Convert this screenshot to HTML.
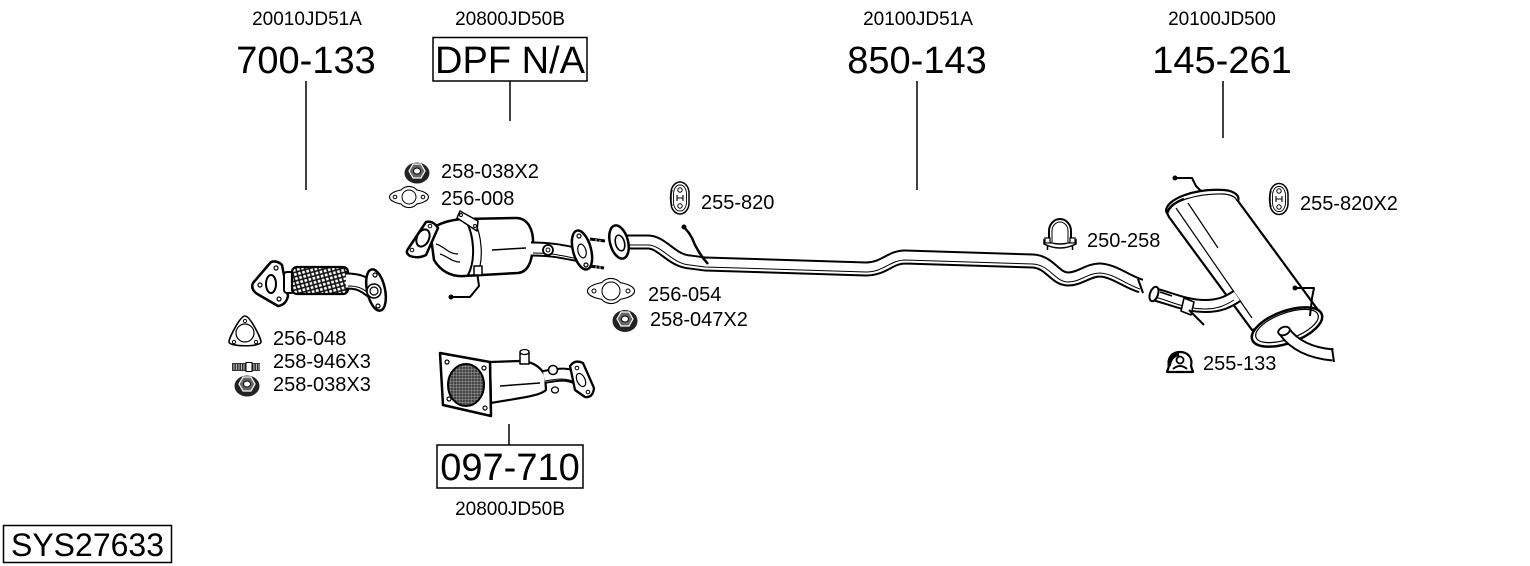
<!DOCTYPE html>
<html>
<head>
<meta charset="utf-8">
<style>
html,body{margin:0;padding:0;background:#fff;}
svg{display:block;}
text{font-family:"Liberation Sans",Arial,sans-serif;fill:#000;}
</style>
</head>
<body>
<svg width="1530" height="566" viewBox="0 0 1530 566" xmlns="http://www.w3.org/2000/svg">
<defs>
  <pattern id="mesh" width="6" height="6" patternUnits="userSpaceOnUse" patternTransform="rotate(30)">
    <rect width="6" height="6" fill="#fff"/>
    <path d="M0 0 L6 6 M6 0 L0 6" stroke="#111" stroke-width="1.6"/>
  </pattern>
  <pattern id="grid" width="3" height="3" patternUnits="userSpaceOnUse">
    <rect width="3" height="3" fill="#444"/>
    <path d="M0 0 H3 M0 0 V3" stroke="#bbb" stroke-width="0.7"/>
  </pattern>
</defs>

<!-- Header labels -->
<g font-size="19" text-anchor="middle">
  <text x="307" y="25">20010JD51A</text>
  <text x="510" y="25">20800JD50B</text>
  <text x="918" y="25">20100JD51A</text>
  <text x="1222" y="25">20100JD500</text>
  <text x="510" y="515">20800JD50B</text>
</g>
<g font-size="38" text-anchor="middle">
  <text x="306" y="73">700-133</text>
  <text x="510" y="73">DPF N/A</text>
  <text x="917" y="73">850-143</text>
  <text x="1222" y="73">145-261</text>
  <text x="510" y="480">097-710</text>
</g>
<rect x="433" y="37.5" width="154" height="43.5" fill="none" stroke="#000" stroke-width="1.5"/>
<rect x="437" y="445" width="146" height="43" fill="none" stroke="#000" stroke-width="1.5"/>
<rect x="3.5" y="525.5" width="168" height="37" fill="none" stroke="#000" stroke-width="1.5"/>
<text x="87.5" y="556" font-size="32" text-anchor="middle">SYS27633</text>

<!-- leader lines -->
<g stroke="#000" stroke-width="1.5">
  <line x1="306" y1="81" x2="306" y2="190"/>
  <line x1="510" y1="81" x2="510" y2="121"/>
  <line x1="917" y1="81" x2="917" y2="190"/>
  <line x1="1223" y1="81" x2="1223" y2="138"/>
  <line x1="509" y1="424" x2="509" y2="445"/>
</g>

<!-- small labels -->
<g font-size="20">
  <text x="441" y="178">258-038X2</text>
  <text x="441" y="205">256-008</text>
  <text x="273" y="345">256-048</text>
  <text x="273" y="368">258-946X3</text>
  <text x="273" y="391">258-038X3</text>
  <text x="701" y="209">255-820</text>
  <text x="648" y="301">256-054</text>
  <text x="650" y="326">258-047X2</text>
  <text x="1087" y="247">250-258</text>
  <text x="1300" y="210">255-820X2</text>
  <text x="1203" y="370">255-133</text>
</g>

<!-- Nut icons -->
<g transform="translate(417,172)">
  <ellipse cx="0" cy="1" rx="12.5" ry="10.5" fill="#222"/>
  <polygon points="-8,-1 -4,-8 4,-8 8,-1 4,6 -4,6" fill="#666" stroke="#fff" stroke-width="1.2"/>
  <ellipse cx="0" cy="-1" rx="3.5" ry="3" fill="#fff" stroke="#000" stroke-width="1"/>
</g>
<g transform="translate(247,385)">
  <ellipse cx="0" cy="1" rx="12.5" ry="10.5" fill="#222"/>
  <polygon points="-8,-1 -4,-8 4,-8 8,-1 4,6 -4,6" fill="#666" stroke="#fff" stroke-width="1.2"/>
  <ellipse cx="0" cy="-1" rx="3.5" ry="3" fill="#fff" stroke="#000" stroke-width="1"/>
</g>
<g transform="translate(625,320)">
  <ellipse cx="0" cy="1" rx="12.5" ry="11" fill="#222"/>
  <polygon points="-8,-1 -4,-8 4,-8 8,-1 4,6 -4,6" fill="#666" stroke="#fff" stroke-width="1.2"/>
  <ellipse cx="0" cy="-1" rx="3.5" ry="3" fill="#fff" stroke="#000" stroke-width="1"/>
</g>

<!-- Gaskets 2-hole -->
<g transform="translate(409,197)">
  <ellipse cx="0" cy="0" rx="19" ry="7" fill="none" stroke="#000" stroke-width="2.2"/>
  <circle cx="0" cy="0" r="10" fill="none" stroke="#000" stroke-width="2.2"/>
  <ellipse cx="0" cy="0" rx="19" ry="7" fill="#fff"/>
  <circle cx="0" cy="0" r="10" fill="#fff"/>
  <circle cx="0" cy="0" r="7" fill="none" stroke="#000" stroke-width="1"/>
  <circle cx="-14" cy="0" r="1.8" fill="none" stroke="#000" stroke-width="1"/>
  <circle cx="14" cy="0" r="1.8" fill="none" stroke="#000" stroke-width="1"/>
</g>
<g transform="translate(611,291)">
  <ellipse cx="0" cy="0" rx="23" ry="8.5" fill="none" stroke="#000" stroke-width="2.2"/>
  <circle cx="0" cy="0" r="12" fill="none" stroke="#000" stroke-width="2.2"/>
  <ellipse cx="0" cy="0" rx="23" ry="8.5" fill="#fff"/>
  <circle cx="0" cy="0" r="12" fill="#fff"/>
  <circle cx="0" cy="0" r="9" fill="none" stroke="#000" stroke-width="1"/>
  <circle cx="-17" cy="0" r="2" fill="none" stroke="#000" stroke-width="1"/>
  <circle cx="17" cy="0" r="2" fill="none" stroke="#000" stroke-width="1"/>
</g>
<!-- triangular gasket -->
<g transform="translate(245,332)">
  <path d="M0 -16 C5 -16 16 6 16 10 C16 15 -16 15 -16 10 C-16 6 -5 -16 0 -16 Z" fill="#fff" stroke="#000" stroke-width="1.6" stroke-linejoin="round"/>
  <circle cx="0" cy="1" r="9" fill="none" stroke="#000" stroke-width="1.2"/>
  <circle cx="0" cy="-11" r="1.6" fill="none" stroke="#000" stroke-width="0.9"/>
  <circle cx="-11" cy="10" r="1.6" fill="none" stroke="#000" stroke-width="0.9"/>
  <circle cx="11" cy="10" r="1.6" fill="none" stroke="#000" stroke-width="0.9"/>
</g>
<!-- stud bolt icon -->
<g transform="translate(232,363)">
  <rect x="0" y="0" width="28" height="8" fill="#333"/>
  <rect x="14" y="-0.5" width="6" height="9" fill="#fff" stroke="#000" stroke-width="1"/>
  <path d="M2 1V7 M4.5 1V7 M7 1V7 M9.5 1V7 M12 1V7 M22 1V7 M24.5 1V7 M27 1V7" stroke="#ddd" stroke-width="0.8"/>
</g>

<!-- Hangers -->
<g transform="translate(680,198)">
  <rect x="-9" y="-16" width="18" height="32" rx="9" ry="11" fill="#fff" stroke="#000" stroke-width="1.5"/>
  <rect x="-6.5" y="-13" width="13" height="26" rx="6" ry="9" fill="none" stroke="#000" stroke-width="0.9"/>
  <path d="M-8 -8 Q-11 0 -8 8" stroke="#000" stroke-width="1.5" fill="none"/>
  <circle cx="0" cy="-8" r="2.2" fill="none" stroke="#000" stroke-width="1"/>
  <circle cx="0" cy="8" r="2.2" fill="none" stroke="#000" stroke-width="1"/>
  <path d="M-3 -3 V3 M3 -3 V3 M-3 0 H3" stroke="#000" stroke-width="1.1"/>
</g>
<g transform="translate(1279,199)">
  <rect x="-9" y="-15.5" width="18" height="31" rx="9" ry="11" fill="#fff" stroke="#000" stroke-width="1.5"/>
  <rect x="-6.5" y="-12.5" width="13" height="25" rx="6" ry="9" fill="none" stroke="#000" stroke-width="0.9"/>
  <path d="M-8 -8 Q-11 0 -8 8" stroke="#000" stroke-width="1.5" fill="none"/>
  <circle cx="0" cy="-8" r="2.2" fill="none" stroke="#000" stroke-width="1"/>
  <circle cx="0" cy="8" r="2.2" fill="none" stroke="#000" stroke-width="1"/>
  <path d="M-3 -3 V3 M3 -3 V3 M-3 0 H3" stroke="#000" stroke-width="1.1"/>
</g>

<!-- Clamp 250-258 -->
<g transform="translate(1060,233)" fill="none" stroke="#000">
  <path d="M-11 9 V-2 A11 12 0 0 1 11 -2 V9" stroke-width="2"/>
  <path d="M-8 9 V-2 A8 9 0 0 1 8 -2 V9" stroke-width="1"/>
  <path d="M-16 7 Q0 15 16 7 L16 11 Q0 19 -16 11 Z" fill="#fff" stroke-width="1.5"/>
  <rect x="-15" y="5" width="5" height="5" fill="#fff" stroke-width="1.2"/>
  <rect x="10" y="5" width="5" height="5" fill="#fff" stroke-width="1.2"/>
  <path d="M-12.5 12 V17 M12.5 12 V17" stroke-width="1.5"/>
</g>

<!-- 255-133 rubber mount -->
<g transform="translate(1180,362)">
  <path d="M-13 10 L13 10 L11 4 C13 -4 8 -10 0 -10 C-8 -10 -13 -4 -11 4 Z" fill="#fff" stroke="#000" stroke-width="2.2" stroke-linejoin="round"/>
  <path d="M-11 4 C-10 -3 -6 -7 -1 -8" stroke="#000" stroke-width="3.5" fill="none"/>
  <circle cx="0" cy="-2" r="3.5" fill="none" stroke="#000" stroke-width="1.8"/>
  <path d="M-7 7 Q0 1 7 7" stroke="#000" stroke-width="2" fill="none"/>
</g>

<!-- ===== 700-133 flex pipe ===== -->
<g stroke-linejoin="round">
  <path d="M253 283 L271 262 Q277 260 282 265 L288 296 Q286 305 278 306 L259 295 Q250 290 253 283 Z" fill="#fff" stroke="#000" stroke-width="2.5"/>
  <ellipse cx="271" cy="284" rx="5" ry="9" fill="#fff" stroke="#000" stroke-width="2"/>
  <circle cx="260" cy="285" r="2" fill="#fff" stroke="#000" stroke-width="1.2"/>
  <circle cx="276" cy="268" r="2" fill="#fff" stroke="#000" stroke-width="1.2"/>
  <circle cx="279" cy="299" r="2" fill="#fff" stroke="#000" stroke-width="1.2"/>
  <rect x="284" y="272" width="10" height="21" rx="3" fill="#fff" stroke="#000" stroke-width="2"/>
  <rect x="292" y="267" width="56" height="27" rx="5" fill="url(#mesh)" stroke="#000" stroke-width="2.2"/>
  <path d="M346 281 C358 281 363 283 373 291" fill="none" stroke="#000" stroke-width="17" stroke-linecap="butt"/>
  <path d="M346 281 C358 281 363 283 373 291" fill="none" stroke="#fff" stroke-width="13"/>
  <path d="M348 286 C358 286 362 288 370 294" fill="none" stroke="#000" stroke-width="1"/>
  <ellipse cx="376" cy="290" rx="9" ry="21" transform="rotate(-12 376 290)" fill="#fff" stroke="#000" stroke-width="2.5"/>
  <circle cx="374" cy="291" r="7" fill="#fff" stroke="#000" stroke-width="1.5"/>
  <circle cx="374" cy="291" r="4" fill="#fff" stroke="#000" stroke-width="1.2"/>
  <circle cx="375" cy="275" r="2" fill="#fff" stroke="#000" stroke-width="1.2"/>
  <circle cx="378" cy="306" r="2" fill="#fff" stroke="#000" stroke-width="1.2"/>
</g>

<!-- ===== Catalyst (DPF N/A) ===== -->
<g stroke-linejoin="round" stroke="#000">
  <polyline points="477,272 479,286 470,297 451,297" fill="none" stroke-width="2"/>
  <circle cx="451" cy="297" r="2" fill="#000"/>
  <path d="M430 230 C440 222 452 220 462 219 L516 218 C528 218 534 230 533 246 C532 262 528 272 518 273 L464 276 C450 277 440 270 434 260 Z" fill="#fff" stroke-width="2.5"/>
  <path d="M466 221 C474 235 476 260 468 275" fill="none" stroke-width="2"/>
  <path d="M474 220 C482 235 484 260 477 275" fill="none" stroke-width="1.2"/>
  <path d="M492 250 L526 248" fill="none" stroke-width="1.5"/>
  <path d="M436 244 C444 246 448 254 458 254 M440 254 C447 256 452 262 460 262" fill="none" stroke-width="1.2"/>
  <path d="M457 218 L460 211 L478 221 L477 231 Z" fill="#fff" stroke-width="1.5"/>
  <circle cx="461" cy="215" r="1.5" fill="#fff" stroke-width="1"/>
  <circle cx="475" cy="226" r="1.5" fill="#fff" stroke-width="1"/>
  <rect x="474" y="266" width="8" height="9" fill="#fff" stroke-width="1.5"/>
  <path d="M408 249 L426 222 Q433 220 438 228 L426 255 Q418 259 410 256 Q405 253 408 249 Z" fill="#fff" stroke-width="2.5"/>
  <ellipse cx="423" cy="238" rx="6" ry="9" transform="rotate(25 423 238)" fill="#fff" stroke-width="2"/>
  <circle cx="412" cy="250" r="1.8" fill="#fff" stroke-width="1"/>
  <circle cx="430" cy="226" r="1.8" fill="#fff" stroke-width="1"/>
  <path d="M531 249 C550 249 560 251 580 255" fill="none" stroke-width="15"/>
  <path d="M531 249 C550 249 560 251 580 255" fill="none" stroke="#fff" stroke-width="11"/>
  <path d="M533 253 C550 253 560 255 578 259" fill="none" stroke-width="1"/>
  <circle cx="548" cy="250" r="5" fill="#fff" stroke-width="1.8"/>
  <circle cx="548" cy="250" r="2" fill="#fff" stroke-width="1"/>
  <path d="M590 239 L605 241 M590 266 L604 268" fill="none" stroke-width="3"/>
  <path d="M596 239 L596 243 M600 240 L600 244 M596 266 L596 270 M600 266 L600 270" fill="none" stroke="#fff" stroke-width="0.8"/>
  <ellipse cx="582" cy="250" rx="9" ry="20" transform="rotate(-15 582 250)" fill="#fff" stroke-width="2.5"/>
  <ellipse cx="582" cy="251" rx="4" ry="7" transform="rotate(-15 582 251)" fill="#fff" stroke-width="1.2"/>
  <circle cx="579" cy="236" r="2" fill="#fff" stroke-width="1.2"/>
  <circle cx="586" cy="265" r="2" fill="#fff" stroke-width="1.2"/>
</g>

<!-- ===== DPF 097-710 ===== -->
<g stroke-linejoin="round" stroke="#000">
  <path d="M490 362 L520 361 C531 361 540 366 545 375 L546 390 C540 396 520 398 491 403 Z" fill="#fff" stroke-width="2.2"/>
  <path d="M500 386 L540 383" fill="none" stroke-width="1.5"/>
  <rect x="520" y="352" width="9" height="12" fill="#fff" stroke-width="1.5"/>
  <ellipse cx="524.5" cy="352" rx="4.5" ry="2.5" fill="#fff" stroke-width="1.3"/>
  <path d="M544 377 C556 375 566 372 579 379" fill="none" stroke-width="14"/>
  <path d="M544 377 C556 375 566 372 579 379" fill="none" stroke="#fff" stroke-width="10"/>
  <path d="M545 381 C556 379 565 377 577 383" fill="none" stroke-width="1"/>
  <circle cx="553" cy="370" r="4.5" fill="#fff" stroke-width="1.6"/>
  <ellipse cx="555" cy="390" rx="3.5" ry="3" fill="#fff" stroke-width="1.3"/>
  <path d="M570 366 Q575 359 583 363 L594 388 Q593 398 585 397 L575 390 Z" fill="#fff" stroke-width="2.3"/>
  <ellipse cx="581" cy="380" rx="4" ry="7" transform="rotate(-25 581 380)" fill="#fff" stroke-width="1.2"/>
  <circle cx="577" cy="368" r="1.8" fill="#fff" stroke-width="1"/>
  <circle cx="588" cy="392" r="1.8" fill="#fff" stroke-width="1"/>
  <path d="M440 353 L490 362 L491 416 L443 405 Z" fill="#fff" stroke-width="2.5"/>
  <ellipse cx="466" cy="385" rx="18" ry="21" fill="url(#grid)" stroke-width="2"/>
  <circle cx="447" cy="362" r="2" fill="#fff" stroke-width="1.2"/>
  <circle cx="484" cy="368" r="2" fill="#fff" stroke-width="1.2"/>
  <circle cx="485" cy="408" r="2" fill="#fff" stroke-width="1.2"/>
  <circle cx="449" cy="399" r="2" fill="#fff" stroke-width="1.2"/>
</g>

<!-- ===== Middle pipe 850-143 ===== -->
<g fill="none" stroke-linejoin="round">
  <path d="M624 242 L648 242 C662 242 672 261 690 262 L705 264 L866 269 C884 269 890 257 905 257 L1033 261 C1050 262 1055 279 1068 279 C1080 279 1088 270 1100 270 C1115 271 1125 281 1141 286" stroke="#000" stroke-width="15"/>
  <path d="M624 242 L648 242 C662 242 672 261 690 262 L705 264 L866 269 C884 269 890 257 905 257 L1033 261 C1050 262 1055 279 1068 279 C1080 279 1088 270 1100 270 C1115 271 1125 281 1141 286" stroke="#fff" stroke-width="11"/>
  <path d="M626 245 L648 245 C662 245 672 264 690 265 L705 267 L866 272 C884 272 890 260 905 260 L1033 264 C1050 265 1055 282 1068 282 C1080 282 1088 273 1100 273 C1115 274 1125 284 1140 289" stroke="#000" stroke-width="1"/>
  <line x1="1138" y1="279" x2="1143" y2="293" stroke="#000" stroke-width="2"/>
</g>
<g stroke="#000" stroke-linejoin="round">
  <ellipse cx="619" cy="242" rx="9" ry="17" transform="rotate(-15 619 242)" fill="#fff" stroke-width="2.5"/>
  <ellipse cx="620" cy="243" rx="4.5" ry="8" transform="rotate(-15 620 243)" fill="#fff" stroke-width="1.6"/>
  <polyline points="684,227 689,233 692,238 695,245 699,252 703,258 708,264" fill="none" stroke-width="2.5"/>
  <circle cx="684" cy="227" r="2" fill="#000"/>
</g>

<!-- ===== Rear muffler 145-261 ===== -->
<g stroke="#000" stroke-linejoin="round" fill="none">
  <polyline points="1175,178 1192,178 1196,186 1201,191" stroke-width="2"/>
  <circle cx="1175" cy="178" r="2" fill="#000"/>
  <path d="M1166 211 C1166 199 1195 188 1224 190 C1235 191 1240 196 1238 201 L1318 310 L1252 330 L1169 217 Z" fill="#fff" stroke-width="2.2"/>
  <path d="M1168 210 C1170 203 1195 193 1224 194 C1232 195 1236 197 1237 201" stroke-width="1.2"/>
  <path d="M1167 214 C1169 206 1176 202 1184 199" stroke-width="2.5"/>
  <line x1="1176" y1="208" x2="1252" y2="318" stroke-width="1.2"/>
  <line x1="1188" y1="203" x2="1218" y2="248" stroke-width="1.2"/>
  <path d="M1153 294 C1170 298 1185 306 1205 306 C1220 306 1228 302 1237 296" stroke-width="14"/>
  <path d="M1153 294 C1170 298 1185 306 1205 306 C1220 306 1228 302 1237 296" stroke="#fff" stroke-width="10"/>
  <path d="M1155 297 C1170 301 1185 309 1205 309 C1218 309 1226 305 1234 300" stroke-width="1"/>
  <ellipse cx="1154" cy="294" rx="4" ry="7.5" transform="rotate(20 1154 294)" fill="#fff" stroke-width="2"/>
  <line x1="1160" y1="292" x2="1172" y2="296" stroke-width="1.5"/>
  <path d="M1184 298 L1194 302 L1191 315 L1181 311 Z" fill="#fff" stroke-width="1.6"/>
  <line x1="1189" y1="310" x2="1204" y2="325" stroke-width="2"/>
  <ellipse cx="1287" cy="327" rx="37" ry="16" transform="rotate(-20 1287 327)" fill="#fff" stroke-width="2.5"/>
  <ellipse cx="1287" cy="326" rx="33" ry="13" transform="rotate(-20 1287 326)" stroke-width="1.2"/>
  <polyline points="1295,288 1314,288 1312,298 1310,316" stroke-width="2"/>
  <circle cx="1295" cy="288" r="2" fill="#000"/>
  <path d="M1284 331 C1294 345 1310 353 1333 355" stroke-width="13"/>
  <path d="M1284 331 C1294 345 1310 353 1333 355" stroke="#fff" stroke-width="9"/>
  <ellipse cx="1284" cy="331" rx="6" ry="4" transform="rotate(-20 1284 331)" fill="#fff" stroke-width="1.8"/>
  <line x1="1332" y1="348" x2="1334" y2="362" stroke-width="2"/>
</g>
</svg>
</body>
</html>
